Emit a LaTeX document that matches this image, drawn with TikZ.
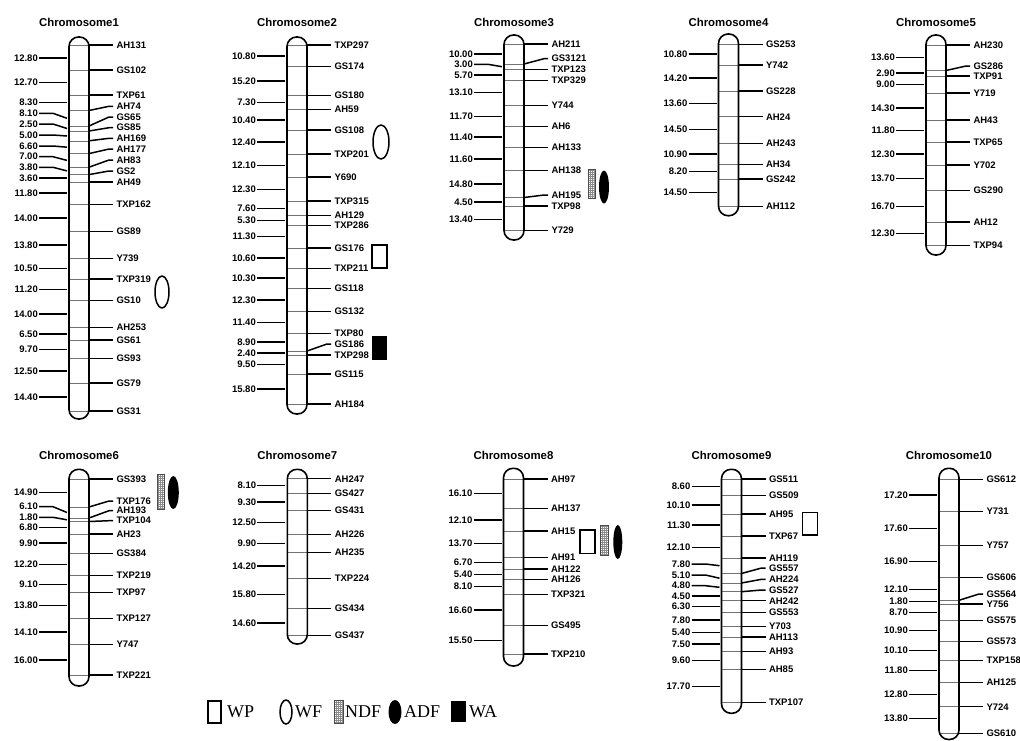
\documentclass[tikz,border=0pt]{standalone}
\usepackage{fontspec}
\setmainfont{Liberation Sans}
\newfontfamily\legendfont{Liberation Serif}
\usetikzlibrary{positioning}

% bar of one chromosome: number, left x, top y, bottom y, title y
\newcommand{\chrbar}[5]{%
  \node[chrtitle] (chr#1) at (#2+10,#5) {Chromosome#1};
  \draw[chrbar] (#2,#3) rectangle (#2+20,#4);
}
% markers on the right: name/true y/label y
\newcommand{\markers}[3]{%
  \foreach \mk/\ty/\ly in {#3} {
    \draw[markline] (#2,\ty) -- (#2+20,\ty);
    \node[mklabel] (c#1-\mk) at (#2+44,\ly) {\mk};
    \draw[conn] (#2+20,\ty) -- (#2+40,\ly) -- (c#1-\mk.west);
  }
}
% distances on the left: value/interval mid y/label y
\newcommand{\distances}[3]{%
  \foreach \dist/\my/\ly [count=\i] in {#3} {
    \node[cmlabel] (c#1-d\i) at (#2-30,\ly) {\dist};
    \draw[conn] (c#1-d\i.east) -- (#2-16,\ly) -- (#2-2,\my);
  }
}
% trait symbols
\newcommand{\ndfbox}[4]{%
  \fill[white] (#1,#2) rectangle (#3,#4);
  \draw[ndfgrid] (#1,#2) grid (#3,#4);
  \draw[ndfedge] (#1,#2) rectangle (#3,#4);
}

\begin{document}
\begin{tikzpicture}[x=1pt, y=-1pt,
  chrtitle/.style={font=\fontsize{11.4}{13}\selectfont\bfseries, inner sep=0pt},
  chrbar/.style={line width=1.6pt, rounded corners=9.5pt},
  markline/.style={black!55, line width=0.5pt},
  conn/.style={line width=1.5pt},
  mklabel/.style={anchor=west, font=\fontsize{9.5}{11}\selectfont\bfseries, inner sep=2pt, outer sep=1.5pt},
  cmlabel/.style={anchor=east, font=\fontsize{9.5}{11}\selectfont\bfseries, inner sep=1pt},
  wpsym/.style={line width=1.5pt, fill=white},
  wfsym/.style={line width=1.5pt},
  adfsym/.style={fill=black},
  wasym/.style={fill=black},
  ndfgrid/.style={black!45, line width=0.3pt, step=2pt},
  ndfedge/.style={line width=0.6pt, black!70},
  legtext/.style={anchor=west, font=\legendfont\fontsize{18}{21}\selectfont, inner sep=1pt}]
\useasboundingbox (0,0) rectangle (1020,740);

% ---------- Chromosome1
\markers{1}{69}{AH131/45/45, GS102/70/70, TXP61/95/95, AH74/110.5/106.3, GS65/126/117, GS85/131/127.7, AH169/140.8/138.3, AH177/153.6/149, AH83/167.2/160, GS2/174.6/171, AH49/181.8/181.8, TXP162/204.4/204.4, GS89/231.7/231.7, Y739/258.4/258.4, TXP319/278.8/278.8, GS10/300.3/300.3, AH253/327.5/327.5, GS61/340/340, GS93/358.6/358.6, GS79/383/383, GS31/411/411}
\distances{1}{69}{12.80/58/58, 12.70/82.5/82.5, 8.30/102.7/102.7, 8.10/118.3/113.3, 2.50/128.5/124, 5.00/136/135, 6.60/147.2/146, 7.00/160.4/156.7, 3.80/170.9/167.3, 3.60/178.2/178.2, 11.80/193/193, 14.00/218/218, 13.80/245/245, 10.50/268.6/268.6, 11.20/289.5/289.5, 14.00/314/314, 6.50/333.8/333.8, 9.70/349.3/349.3, 12.50/370.8/370.8, 14.40/397/397}
\chrbar{1}{69}{37}{419}{22}
\draw[wfsym] (162,292) ellipse [x radius=7pt, y radius=16pt];

% ---------- Chromosome2
\markers{2}{287}{TXP297/45/45, GS174/66.5/66.5, GS180/95.5/95.5, AH59/109.7/109.7, GS108/130/130, TXP201/154/154, Y690/177/177, TXP315/201/201, AH129/215.5/215.5, TXP286/225.5/225.5, GS176/248/248, TXP211/268.5/268.5, GS118/288.5/288.5, GS132/311.5/311.5, TXP80/333.5/333.5, GS186/351/344, TXP298/355/355, GS115/374/374, AH184/404/404}
\distances{2}{287}{10.80/56/56, 15.20/81/81, 7.30/102.7/102.7, 10.40/120/120, 12.40/142.2/142.2, 12.10/165.4/165.4, 12.30/189.5/189.5, 7.60/208.7/208.7, 5.30/220.7/220.7, 11.30/236.5/236.5, 10.60/258/258, 10.30/278/278, 12.30/300/300, 11.40/322.4/322.4, 8.90/342.2/342.2, 2.40/353/353, 9.50/364.4/364.4, 15.80/389/389}
\chrbar{2}{287}{37}{414}{22}
\draw[wfsym] (381,142) ellipse [x radius=8pt, y radius=17pt];
\draw[wpsym] (372,245) rectangle (387,268);
\fill[wasym] (372,336) rectangle (387,360);

% ---------- Chromosome3
\markers{3}{504}{AH211/44/44, GS3121/64/58.7, TXP123/69.3/69.3, TXP329/80.3/80.3, Y744/105.5/105.5, AH6/126.7/126.7, AH133/147.7/147.7, AH138/170.3/170.3, AH195/197.5/195, TXP98/206/206, Y729/230.7/230.7}
\distances{3}{504}{10.00/53.8/53.8, 3.00/66.7/64.3, 5.70/75/75, 13.10/92.7/92.7, 11.70/116.4/116.4, 11.40/137.2/137.2, 11.60/159/159, 14.80/184/184, 4.50/202/202, 13.40/219.3/219.3}
\chrbar{3}{504}{35}{240}{22}
\ndfbox{588}{169}{595}{198}
\fill[adfsym] (604,187) ellipse [x radius=5pt, y radius=16.5pt];

% ---------- Chromosome4
\markers{4}{718.5}{GS253/44.3/44.3, Y742/65/65, GS228/91/91, AH24/116.7/116.7, AH243/143.7/143.7, AH34/164.3/164.3, GS242/179/179, AH112/206.3/206.3}
\distances{4}{718.5}{10.80/54/54, 14.20/78/78, 13.60/103.7/103.7, 14.50/129.3/129.3, 10.90/154/154, 8.20/171.7/171.7, 14.50/192.7/192.7}
\chrbar{4}{718.5}{34}{215.7}{22}

% ---------- Chromosome5
\markers{5}{926}{AH230/45/45, GS286/70.5/66, TXP91/76/76, Y719/93/93, AH43/120/120, TXP65/142/142, Y702/165/165, GS290/190.7/190.7, AH12/222/222, TXP94/245.3/245.3}
\distances{5}{926}{13.60/57.7/57.7, 2.90/73/73, 9.00/84.3/84.3, 14.30/108/108, 11.80/130.7/130.7, 12.30/154/154, 13.70/178.3/178.3, 16.70/206.7/206.7, 12.30/233.3/233.3}
\chrbar{5}{926}{35}{255}{22}

% ---------- Chromosome6
\markers{6}{69}{GS393/479/479, TXP176/507/501, AH193/518/510.7, TXP104/521.5/520.7, AH23/534/534, GS384/553.3/553.3, TXP219/575.7/575.7, TXP97/592.7/592.7, TXP127/618.3/618.3, Y747/644.3/644.3, TXP221/675/675}
\distances{6}{69}{14.90/492.7/492.7, 6.10/512.5/506.7, 1.80/519.8/517.3, 6.80/527.7/527.7, 9.90/543/543, 12.20/564.7/564.7, 9.10/584.5/584.5, 13.80/605.6/605.6, 14.10/631.8/631.8, 16.00/659.8/659.8}
\chrbar{6}{69}{469.3}{686}{455}
\ndfbox{157.3}{474.3}{164}{509}
\fill[adfsym] (173.3,492.5) ellipse [x radius=5.5pt, y radius=16.5pt];

% ---------- Chromosome7
\markers{7}{287.3}{AH247/478.7/478.7, GS427/493.3/493.3, GS431/510.7/510.7, AH226/534.3/534.3, AH235/552.7/552.7, TXP224/578.3/578.3, GS434/608.7/608.7, GS437/635.3/635.3}
\distances{7}{287.3}{8.10/485.7/485.7, 9.30/502/502, 12.50/522.3/522.3, 9.90/543.3/543.3, 14.20/566/566, 15.80/594.7/594.7, 14.60/623/623}
\chrbar{7}{287.3}{469.3}{644}{455}

% ---------- Chromosome8
\markers{8}{503.5}{AH97/479/479, AH137/508.7/508.7, AH15/531/531, AH91/557.3/557.3, AH122/569/569, AH126/579.3/579.3, TXP321/594.7/594.7, GS495/625.3/625.3, TXP210/654/654}
\distances{8}{503.5}{16.10/493.3/493.3, 12.10/520/520, 13.70/543.7/543.7, 6.70/562.7/562.7, 5.40/574.7/574.7, 8.10/586.7/586.7, 16.60/610/610, 15.50/640.3/640.3}
\chrbar{8}{503.5}{468.3}{666}{455}
\draw[wpsym] (580,530) rectangle (595,553.3);
\ndfbox{600.3}{525}{608.3}{555.7}
\fill[adfsym] (617.8,542) ellipse [x radius=4.5pt, y radius=17pt];

% ---------- Chromosome9
\markers{9}{721.5}{GS511/479/479, GS509/495.3/495.3, AH95/514/514, TXP67/536/536, AH119/558/558, GS557/573.5/568, AH224/583/579.3, GS527/591.7/590, AH242/600.7/600.7, GS553/612.5/612.5, Y703/626.7/626.7, AH113/637.2/637.2, AH93/651.3/651.3, AH85/669.5/669.5, TXP107/702.7/702.7}
\distances{9}{721.5}{8.60/486.7/486.7, 10.10/505/505, 11.30/525/525, 12.10/547.3/547.3, 7.80/565.7/564, 5.10/578.2/575, 4.80/587.3/585.7, 4.50/596/596, 6.30/606.3/606.3, 7.80/619.8/619.8, 5.40/632.3/632.3, 7.50/644.2/644.2, 9.60/660.5/660.5, 17.70/686.5/686.5}
\chrbar{9}{721.5}{469.3}{713.3}{455}
\draw[wpsym] (802.7,512.7) rectangle (817.3,535);

% ---------- Chromosome10
\markers{10}{939}{GS612/479.3/479.3, Y731/511.7/511.7, Y757/545.3/545.3, GS606/577.3/577.3, GS564/600.3/594, Y756/604/604, GS575/620.7/620.7, GS573/641.3/641.3, TXP158/660.3/660.3, AH125/682.7/682.7, Y724/706.7/706.7, GS610/733.3/733.3}
\distances{10}{939}{17.20/495/495, 17.60/528.7/528.7, 16.90/561.3/561.3, 12.10/589.3/589.3, 1.80/601.7/601.7, 8.70/612.3/612.3, 10.90/630.7/630.7, 10.10/650.7/650.7, 11.80/670.7/670.7, 12.80/694.7/694.7, 13.80/718.3/718.3}
\chrbar{10}{939}{468.3}{739.5}{455}

% ---------- legend
\draw[wpsym] (208,701) rectangle (221,723);
\node[legtext] (leg-wp) at (226,712) {WP};
\draw[wfsym] (286,712) ellipse [x radius=6pt, y radius=12pt];
\node[legtext] (leg-wf) at (294,712) {WF};
\ndfbox{334}{700}{343}{723}
\node[legtext] (leg-ndf) at (344,712) {NDF};
\fill[adfsym] (395,712) ellipse [x radius=6.5pt, y radius=12pt];
\node[legtext] (leg-adf) at (403,712) {ADF};
\fill[wasym] (451,701) rectangle (466,722);
\node[legtext] (leg-wa) at (468,712) {WA};
\end{tikzpicture}
\end{document}
